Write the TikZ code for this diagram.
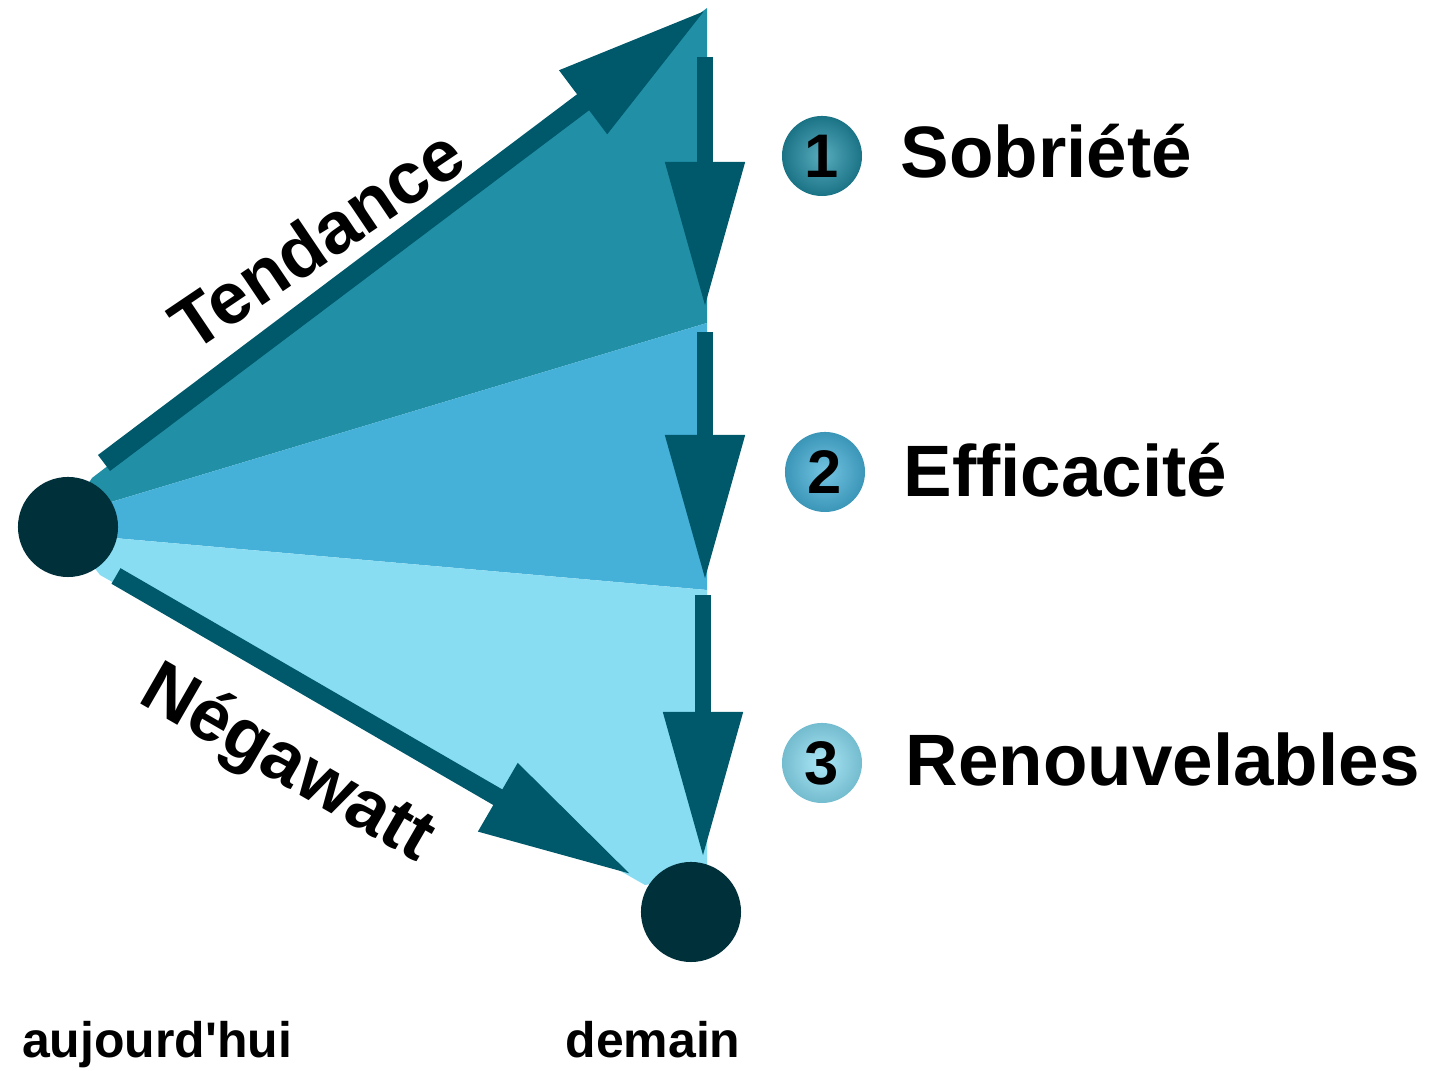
\documentclass[tikz,border=0pt]{standalone}
\usepackage{fontspec}
\usetikzlibrary{arrows.meta}
\newfontfamily\arial[Ligatures={TeXOff,CommonOff}]{Liberation Sans}

\definecolor{sliceone}{HTML}{2190A7}
\definecolor{slicetwo}{HTML}{45B0D8}
\definecolor{slicethree}{HTML}{88DDF3}
\definecolor{arrowteal}{HTML}{00586B}
\definecolor{dotteal}{HTML}{00303A}

\begin{document}
\begin{tikzpicture}[x=0.01cm, y=-0.01cm,
    bigtext/.style={font=\arial\bfseries\fontsize{20.7}{25}\selectfont, inner sep=0pt},
    smalltext/.style={font=\arial\bfseries\fontsize{14.2}{17}\selectfont, inner sep=0pt},
    dot/.style={circle, fill=dotteal, minimum size=1cm, inner sep=0pt},
    badge/.style={circle, minimum size=0.8cm, inner sep=0pt, shade,
        font=\arial\bfseries\fontsize{17.5}{17.5}\selectfont, text=black},
    sidearrow/.style={arrowteal, line width=0.2cm,
        -{Triangle[length=1.55cm, width=0.74cm]}},
    downarrow/.style={arrowteal, line width=0.15cm,
        -{Triangle[length=1.45cm, width=0.76cm]}}]
    \useasboundingbox (0,0) rectangle (1447,1071);

    % slices of the fan
    \fill[sliceone] (68,515) -- (92,478) -- (707,8) -- (707,323) -- cycle;
    \fill[slicetwo] (68,515) -- (707,323) -- (707,590) -- (68,534) -- cycle;
    \fill[slicethree] (68,534) -- (707,590) -- (707,875) -- (645,885) -- (100,575) -- cycle;

    \node[dot] (today) at (68,527) {};
    \node[dot] (tomorrow) at (691,912) {};

    \coordinate (tendstart) at (104,463);
    \coordinate (apex) at (707,9);
    \coordinate (negstart) at (116,576);
    \coordinate (negend) at (632,875);
    \coordinate (s1) at (705,57);
    \coordinate (e1) at (705,307);
    \coordinate (s2) at (705,332);
    \coordinate (e2) at (705,580);
    \coordinate (s3) at (703,595);
    \coordinate (e3) at (703,857);

    \draw[sidearrow] (tendstart) -- (apex);
    \draw[sidearrow, line width=0.18cm] (negstart) -- (negend);
    \draw[downarrow] (s1) -- (e1);
    \draw[downarrow] (s2) -- (e2);
    \draw[downarrow] (s3) -- (e3);

    \node[bigtext, rotate=34, anchor=base] (tendance) at (331,260) {Tendance};
    \node[bigtext, rotate=-30, anchor=base] (negawatt) at (277,782) {Négawatt};

    \node[badge, inner color=sliceone!75!white, outer color=sliceone!80!black] (b1) at (822,156) {1};
    \node[badge, inner color=slicetwo!75!white, outer color=slicetwo!85!black] (b2) at (825,472) {2};
    \node[badge, inner color=slicethree!70!white, outer color=slicethree!85!black] (b3) at (822,763) {3};

    \node[bigtext, anchor=base west] (sobriete) at (900,178) {Sobriété};
    \node[bigtext, anchor=base west] (efficacite) at (903,497) {Efficacité};
    \node[bigtext, anchor=base west] (renouvelables) at (905,786) {Renouvelables};

    \node[smalltext, anchor=base] (aujourdhui) at (157,1058) {aujourd'hui};
    \node[smalltext, anchor=base] (demain) at (653,1058) {demain};
\end{tikzpicture}
\end{document}
